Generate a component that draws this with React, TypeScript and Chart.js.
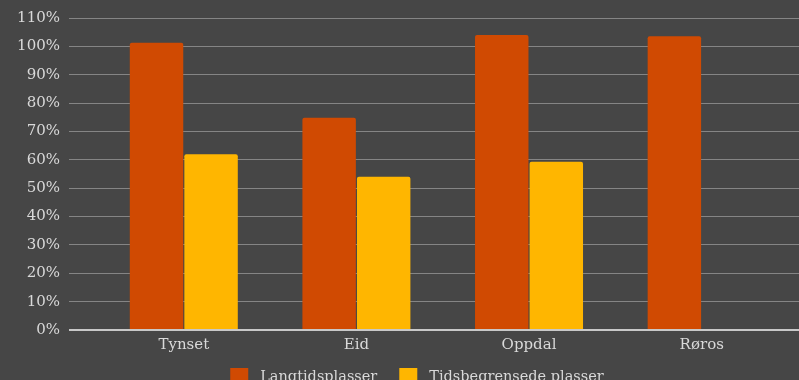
import React, { useEffect, useRef } from "react";
import { Chart, registerables } from "chart.js";

Chart.register(...registerables);

const categories = ["Tynset", "Eid", "Oppdal", "Røros"];
const langtidsplasser = [101.3, 74.8, 104, 103.6];
const tidsbegrensede = [62, 54, 59.3, null];
const seriesNames = ["Langtidsplasser", "Tidsbegrensede plasser"];

const FONT = "'DejaVu Serif', Georgia, serif";
const BG = "#464646";
const TEXT = "#d9d9d9";
const W = 799;
const H = 395;

// Legend row drawn under the x axis: square swatch, gap, label, spacing.
const legendRow = {
  id: "legendRow",
  afterDraw(chart: any) {
    const { ctx } = chart;
    const box = 18;
    const gap = 12;
    const spacing = 22;
    const centerX = 417;
    const boxTop = 368;
    ctx.save();
    ctx.font = `14.5px ${FONT}`;
    const items = chart.data.datasets.map((ds: any) => ({
      text: ds.label as string,
      color: ds.backgroundColor as string,
      w: ctx.measureText(ds.label).width,
    }));
    const total =
      items.reduce((s: number, it: any) => s + box + gap + it.w, 0) +
      spacing * (items.length - 1);
    let x = centerX - total / 2;
    ctx.textBaseline = "middle";
    ctx.textAlign = "left";
    for (const it of items) {
      ctx.fillStyle = it.color;
      ctx.fillRect(x, boxTop, box, 17);
      ctx.fillStyle = TEXT;
      ctx.fillText(it.text, x + box + gap, boxTop + 9);
      x += box + gap + it.w + spacing;
    }
    ctx.restore();
  },
};

export default function App() {
  const canvasRef = useRef<HTMLCanvasElement | null>(null);

  useEffect(() => {
    const canvas = canvasRef.current;
    if (!canvas) return;
    const toPoints = (arr: (number | null)[]) =>
      arr.map((v, i) => ({ x: i, y: v }));

    const chart = new Chart(canvas, {
      type: "bar",
      data: {
        datasets: [
          {
            label: seriesNames[0],
            data: toPoints(langtidsplasser) as any,
            backgroundColor: "#D04A02",
            borderRadius: 2,
            borderSkipped: "bottom",
          },
          {
            label: seriesNames[1],
            data: toPoints(tidsbegrensede) as any,
            backgroundColor: "#FFB600",
            borderRadius: 2,
            borderSkipped: "bottom",
          },
        ],
      },
      options: {
        animation: false,
        responsive: false,
        maintainAspectRatio: false,
        categoryPercentage: 0.632,
        barPercentage: 0.98,
        layout: { padding: { top: 17, left: 0, right: 0, bottom: 37 } },
        plugins: {
          tooltip: { enabled: false },
          legend: { display: false },
        },
        scales: {
          x: {
            type: "linear",
            offset: false,
            min: -0.665,
            max: 3.564,
            grid: { display: false, drawTicks: false },
            border: { display: false },
            afterBuildTicks: (scale: any) => {
              scale.ticks = categories.map((_, i) => ({ value: i }));
            },
            afterFit: (scale: any) => {
              scale.height = 28;
            },
            ticks: {
              color: TEXT,
              font: { family: FONT, size: 15 },
              padding: 6,
              maxRotation: 0,
              autoSkip: false,
              callback: (v: any) => categories[v] ?? "",
            },
          },
          y: {
            min: 0,
            max: 110,
            grid: {
              color: (ctx: any) => (ctx.tick && ctx.tick.value === 0 ? "#c8c8c8" : "#858585"),
              lineWidth: (ctx: any) => (ctx.tick && ctx.tick.value === 0 ? 2 : 1),
              drawTicks: false,
            },
            border: { display: false },
            afterFit: (scale: any) => {
              scale.width = 69;
            },
            ticks: {
              stepSize: 10,
              color: TEXT,
              font: { family: FONT, size: 15 },
              padding: 9,
              callback: (v: any) => `${v}%`,
            },
          },
        },
      },
      plugins: [legendRow],
    });
    return () => chart.destroy();
  }, []);

  return (
    <div
      style={{
        position: "fixed",
        left: 0,
        top: 0,
        width: W,
        height: H,
        background: BG,
      }}
    >
      <canvas ref={canvasRef} width={W} height={H} style={{ display: "block" }} />
    </div>
  );
}
